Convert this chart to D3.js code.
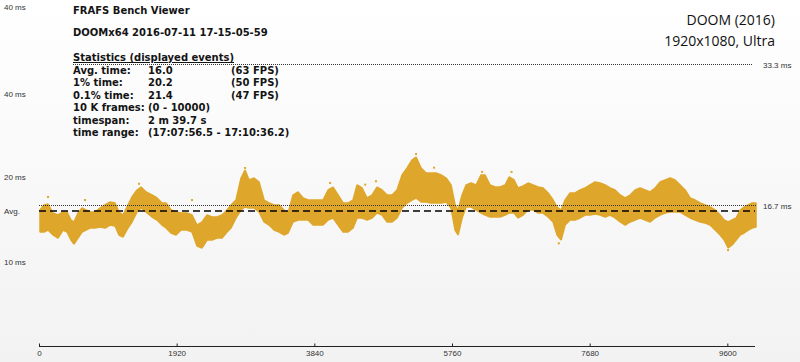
<!DOCTYPE html>
<html><head><meta charset="utf-8">
<script src="https://cdn.jsdelivr.net/npm/d3@7"></script>
<style>
html,body{margin:0;padding:0;background:#fff;}
svg{display:block;}
</style></head>
<body>
<svg id="c" width="800" height="362"></svg>
<script>
// ---- data ----
const frames = [14,70,126,195,265,335,391,446,488,544,600,656,711,781,851,921,991,1060,1116,1172,1241,1297,1367,1423,1493,1576,1646,1716,1772,1841,1911,1981,2065,2134,2204,2274,2344,2413,2483,2553,2623,2678,2748,2818,2874,2930,2999,3069,3139,3209,3278,3348,3418,3474,3543,3613,3683,3753,3822,3892,3962,4032,4101,4171,4241,4311,4380,4436,4506,4576,4645,4715,4785,4855,4924,4994,5064,5134,5203,5259,5329,5399,5468,5538,5608,5678,5747,5803,5845,5901,5957,6026,6096,6166,6222,6291,6361,6431,6501,6557,6626,6682,6752,6822,6891,6961,7031,7101,7170,7226,7282,7338,7407,7477,7547,7617,7686,7756,7826,7896,7965,8035,8105,8175,8244,8314,8384,8454,8523,8593,8663,8733,8802,8872,8942,9012,9081,9151,9221,9291,9360,9430,9500,9556,9612,9667,9723,9779,9835,9891,9946,10000];
const frameTimeHigh = [16.12,16.71,16.82,15.76,15.53,15.88,15.88,14.94,14.71,15.76,16.35,16.12,15.88,15.88,16.35,16.71,17.06,16.94,15.88,15.53,16.71,17.65,18.47,18.82,18.24,17.88,17.53,16.94,16.94,16.12,15.88,15.76,15.76,15.53,14.35,14.71,15.53,15.29,15.29,15.53,16.12,16.71,17.29,19.88,20.82,19.65,19.88,19.41,17.29,16.94,16.71,16.71,16.12,15.76,17.88,18.24,17.53,17.29,17.29,17.29,17.29,18.47,18.82,17.88,16.94,16.94,17.29,19.06,18.71,17.53,17.88,18.82,18.47,17.88,17.88,18.47,20.24,21.06,22.00,22.35,21.06,20.47,20.47,20.47,20.24,19.88,19.06,16.71,16.12,17.88,19.06,19.29,19.06,20.24,20.24,19.06,18.82,18.82,19.06,20.00,19.65,18.71,18.94,19.29,19.06,18.82,18.71,18.12,17.29,16.47,16.12,17.29,18.12,18.12,18.47,18.71,19.06,19.41,19.29,19.06,18.71,18.47,17.88,17.53,17.88,18.47,18.71,18.47,18.24,18.71,19.41,19.65,19.88,19.65,19.06,18.47,17.53,17.29,16.94,16.71,16.47,16.12,15.53,14.94,14.71,14.94,15.18,16.12,16.47,16.71,16.94,16.94];
const frameTimeLow = [13.53,13.53,13.76,13.18,12.82,13.76,13.53,12.59,12.12,12.82,13.53,13.76,14.00,14.00,14.12,14.00,14.35,14.24,13.18,12.94,14.00,14.71,15.88,16.35,15.88,15.29,14.94,14.35,14.00,13.41,13.18,13.76,13.76,13.53,11.88,11.65,12.59,12.59,12.82,12.82,13.53,14.00,15.18,16.12,16.47,16.35,16.35,15.88,14.71,14.35,13.76,13.53,13.18,13.41,14.71,14.94,14.94,14.94,14.35,14.35,14.35,14.94,15.18,14.35,13.53,13.53,14.00,15.18,15.18,14.94,15.18,15.76,15.53,14.71,14.71,15.18,16.35,16.94,17.29,17.53,17.06,17.06,16.94,16.94,16.94,17.06,16.35,13.76,13.18,15.18,16.47,16.47,16.12,15.76,15.53,15.29,15.29,15.29,15.53,15.76,15.76,15.18,15.53,16.12,16.12,15.76,15.76,15.29,14.71,13.18,12.59,14.35,14.94,14.94,15.18,15.53,15.53,15.65,15.53,15.29,15.53,15.18,14.71,14.35,14.71,14.94,15.18,14.94,14.71,15.18,15.53,15.76,15.88,15.88,15.88,15.53,15.18,14.94,14.71,14.59,14.35,13.76,13.18,12.59,11.65,12.00,12.59,13.18,13.41,13.76,14.00,14.12];
const outlierFrames = [126,642,1395,2134,2874,4060,4550,4700,5259,5510,6180,6590,7250,9610];
const outlierTimes  = [17.65,17.29,19.20,17.29,21.06,19.30,19.10,19.50,22.70,21.10,20.60,20.60,12.20,11.40];
const avgTime = 16.0;
const refLines = [16.7, 33.3];
const refLabels = ["16.7 ms", "33.3 ms"];
const xTicks = [0,1920,3840,5760,7680,9600];
const yLabelValues = [40, 30, 20, 16.0, 10];
const yLabelTexts = ["40 ms", "40 ms", "20 ms", "Avg.", "10 ms"];
const titleLines = ["FRAFS Bench Viewer", "DOOMx64 2016-07-11 17-15-05-59"];
const statsHeader = "Statistics (displayed events)";
const statLabels = ["Avg. time:", "1% time:", "0.1% time:", "10 K frames:", "timespan:", "time range:"];
const statValues = ["16.0", "20.2", "21.4", "(0 - 10000)", "2 m 39.7 s", "(17:07:56.5 - 17:10:36.2)"];
const statFps = ["(63 FPS)", "(50 FPS)", "(47 FPS)", "", "", ""];
const gameTitle = ["DOOM (2016)", "1920x1080, Ultra"];

// ---- drawing ----
const svg = d3.select("#c");
const defs = svg.append("defs");
const g = defs.append("linearGradient").attr("id","bg").attr("x1",0).attr("y1",0).attr("x2",0).attr("y2",1);
g.append("stop").attr("offset","0%").attr("stop-color","#ffffff");
g.append("stop").attr("offset","100%").attr("stop-color","#f2f2f2");
svg.append("rect").attr("width",800).attr("height",362).attr("fill","url(#bg)");

const x = d3.scaleLinear().domain([0,10000]).range([39,756]);
const y = d3.scaleLinear().domain([0,40]).range([347,7]);
const data = frames.map((f,i)=>({f, hi:frameTimeHigh[i], lo:frameTimeLow[i]}));
const col = "#DEA62B";

// band of frame times
svg.append("path").datum(data)
  .attr("d", d3.area().x(d=>x(d.f)).y0(d=>y(d.lo)).y1(d=>y(d.hi)).curve(d3.curveLinear))
  .attr("fill", col).attr("stroke", col).attr("stroke-width", 1.5).attr("stroke-linejoin","bevel");
svg.append("g").selectAll("rect").data(outlierFrames).join("rect")
  .attr("x",(d)=>x(d)-1).attr("y",(d,i)=>y(outlierTimes[i])-1).attr("width",2).attr("height",2).attr("fill",col);

// reference lines
svg.append("line").attr("x1",x(0)).attr("x2",x(10000)-1).attr("y1",y(avgTime)).attr("y2",y(avgTime))
  .attr("stroke","#000").attr("stroke-width",1.5).attr("stroke-dasharray","7,4");
svg.append("line").attr("x1",x(0)).attr("x2",757).attr("y1",Math.round(y(refLines[0]))+0.5).attr("y2",Math.round(y(refLines[0]))+0.5)
  .attr("stroke","#333").attr("stroke-width",1).attr("stroke-dasharray","1,1");
svg.append("line").attr("x1",73).attr("x2",752).attr("y1",Math.round(y(refLines[1]))+0.5).attr("y2",Math.round(y(refLines[1]))+0.5)
  .attr("stroke","#333").attr("stroke-width",1).attr("stroke-dasharray","1,1");
svg.selectAll("text.ref").data(refLines).join("text").attr("class","ref")
  .attr("x",763).attr("y",d=>y(d)+1).attr("dy","0.35em")
  .attr("font-family","Liberation Sans, Arial, sans-serif").attr("font-size",8).attr("fill","#333")
  .text((d,i)=>refLabels[i]);

// y labels
svg.selectAll("text.yl").data(yLabelValues).join("text").attr("class","yl")
  .attr("x",4).attr("y",d=>y(d)+(d===30?2:0)).attr("dy","0.35em")
  .attr("font-family","Liberation Sans, Arial, sans-serif").attr("font-size",8).attr("fill","#333")
  .text((d,i)=>yLabelTexts[i]);

// x axis
const xAxis = d3.axisBottom(x).tickValues(xTicks).tickSize(3).tickFormat(d3.format("d"));
const ax = svg.append("g").attr("transform","translate(0,346.5)").call(xAxis);
ax.select(".domain").attr("d",`M${x(0)},0H${x(10000)-1}`).attr("stroke","#222");
ax.selectAll(".tick line").attr("stroke","#222").attr("y1",-3).attr("y2",0);
ax.selectAll(".tick text").attr("y",4).attr("font-family","Liberation Sans, Arial, sans-serif").attr("font-size",8).attr("fill","#333");

// title block
const bold = "DejaVu Sans, Verdana, sans-serif";
const tb = svg.append("g").attr("font-family",bold).attr("font-weight","bold").attr("font-size",10).attr("fill","#141414");
tb.append("text").attr("x",73).attr("y",13.5).text(titleLines[0]);
tb.append("text").attr("x",73).attr("y",36).text(titleLines[1]);
tb.append("text").attr("x",73).attr("y",61).attr("text-decoration","underline").text(statsHeader);
statLabels.forEach((t,i)=>{
  const yy = 74 + i*12.4;
  tb.append("text").attr("x",73).attr("y",yy).text(t);
  tb.append("text").attr("x",148).attr("y",yy).text(statValues[i]);
  if (statFps[i]) tb.append("text").attr("x",231).attr("y",yy).text(statFps[i]);
});

// top-right
const tr = svg.append("g").attr("font-family","Open Sans, Noto Sans, sans-serif").attr("font-size",14).attr("fill","#111").attr("text-anchor","end");
tr.append("text").attr("x",775).attr("y",25).text(gameTitle[0]);
tr.append("text").attr("x",775).attr("y",46).text(gameTitle[1]);
</script>
</body></html>
